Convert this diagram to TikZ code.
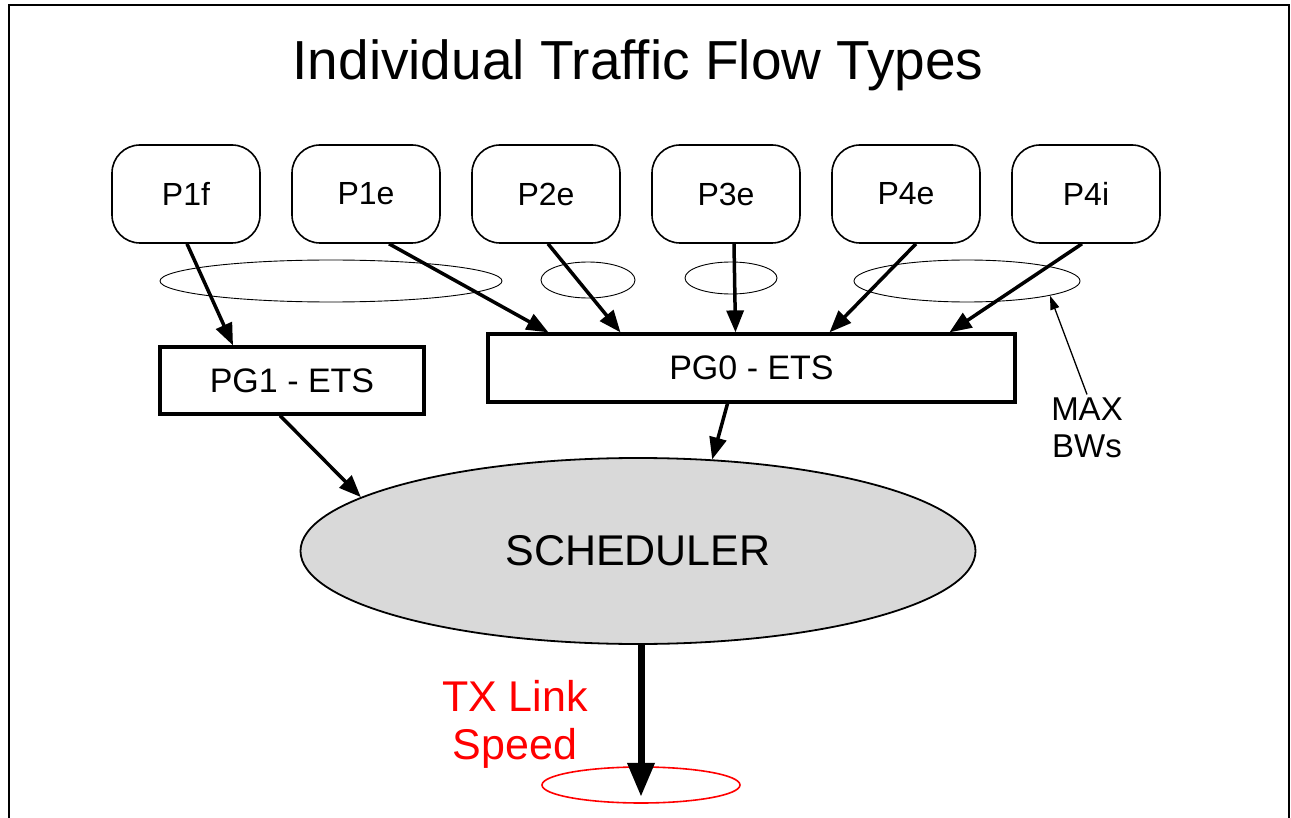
\documentclass[tikz,border=0pt]{standalone}
\usepackage{fontspec}
\setmainfont{Liberation Sans}
\usetikzlibrary{arrows.meta,positioning,shapes.geometric}
\definecolor{sgray}{HTML}{D9D9D9}
\definecolor{sred}{HTML}{FF0000}

\begin{document}
\begin{tikzpicture}[x=1pt,y=-1pt,
    every node/.style={align=center,font=\fontsize{32}{38}\selectfont},
    prio/.style={draw,line width=1.6pt,rounded corners=28pt,
                 minimum width=148pt,minimum height=98pt},
    pgbox/.style={draw,line width=3.2pt,inner sep=0pt,font=\fontsize{34}{40}\selectfont},
    bw/.style={draw,ellipse,line width=0.9pt,inner sep=0pt},
    flow/.style={line width=3.5pt,-{Triangle[length=22pt,width=17pt]}}]
  \useasboundingbox (0,0) rectangle (1291,818);
  \draw[line width=2pt] (9,818) -- (9,5) -- (1289,5) -- (1289,818);

  \node[font=\fontsize{55}{62}\selectfont,anchor=base] (title) at (638,80)
    {Individual Traffic Flow Types};

  % traffic classes
  \node[prio] (p1f) at (186,194) {P1f};
  \node[prio,right=30.4pt of p1f] (p1e) {P1e};
  \node[prio,right=30.4pt of p1e] (p2e) {P2e};
  \node[prio,right=30.4pt of p2e] (p3e) {P3e};
  \node[prio,right=30.4pt of p3e] (p4e) {P4e};
  \node[prio,right=30.4pt of p4e] (p4i) {P4i};

  % max bandwidth groups
  \node[bw,minimum width=342pt,minimum height=42pt] (bw1) at (331,281) {};
  \node[bw,minimum width=94pt,minimum height=36pt] (bw2) at (588,280) {};
  \node[bw,minimum width=92pt,minimum height=32pt] (bw3) at (731,278) {};
  \node[bw,minimum width=226pt,minimum height=42pt] (bw4) at (967,281) {};

  % priority groups
  \node[pgbox,minimum width=264pt,minimum height=67pt] (pg1) at (292,380.5) {PG1 - ETS};
  \node[pgbox,minimum width=527pt,minimum height=68pt] (pg0) at (751.5,368) {PG0 - ETS};

  \node[draw,ellipse,fill=sgray,line width=1.8pt,minimum width=675pt,minimum height=186pt,
        font=\fontsize{43}{50}\selectfont] (sched) at (638,551) {SCHEDULER};
  \node[draw=sred,ellipse,line width=1.6pt,minimum width=198pt,minimum height=36pt] (link) at (641,785) {};

  \node[text=sred,font=\fontsize{43}{48}\selectfont] (speed) at (515,724) {TX Link\\Speed};
  \node[font=\fontsize{33}{37}\selectfont] (maxbw) at (1087,428) {MAX\\BWs};

  \draw[flow] ([xshift=1pt]p1f.south) -- ([xshift=-59pt]pg1.north);
  \draw[flow] ([xshift=23pt]p1e.south) -- ([xshift=-203pt]pg0.north);
  \draw[flow] ([xshift=2pt]p2e.south) -- ([xshift=-131pt]pg0.north);
  \draw[flow] ([xshift=8pt]p3e.south) -- ([xshift=-16pt]pg0.north);
  \draw[flow] ([xshift=10pt]p4e.south) -- ([xshift=78pt]pg0.north);
  \draw[flow] ([xshift=-4pt]p4i.south) -- ([xshift=198pt]pg0.north);
  \draw[flow] ([xshift=-12pt]pg1.south) -- (sched.169);
  \draw[flow] ([xshift=-24pt]pg0.south) -- (sched.51);
  \draw[line width=7pt,-{Triangle[length=34pt,width=26pt]}]
    ([xshift=3pt]sched.south) -- ([yshift=7pt]link.south);
  \draw[line width=1.3pt,-{Triangle[length=14pt,width=9pt]}] (maxbw.north) -- (bw4.-10);
\end{tikzpicture}
\end{document}
